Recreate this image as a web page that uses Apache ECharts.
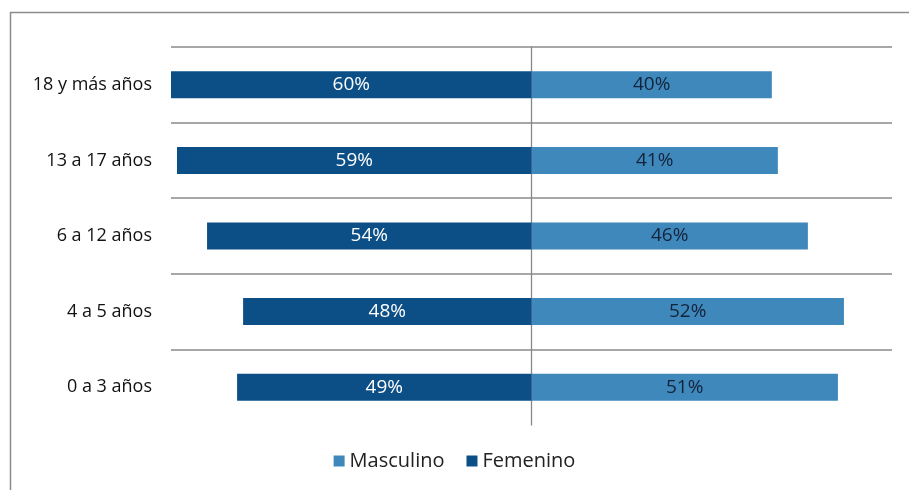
<!DOCTYPE html>
<html><head><meta charset="utf-8">
<script src="https://cdn.jsdelivr.net/npm/echarts@6/dist/echarts.min.js"></script>
<style>html,body{margin:0;padding:0;background:#fff}#c{width:909px;height:490px}</style>
</head><body><div id="c"></div>
<script>
const categories = ['0 a 3 años', '4 a 5 años', '6 a 12 años', '13 a 17 años', '18 y más años'];
const masculino = [51, 52, 46, 41, 40];
const femenino = [49, 48, 54, 59, 60];

const chart = echarts.init(document.getElementById('c'));
const font = '"Open Sans", "Noto Sans", sans-serif';
chart.setOption({
  animation: false,
  backgroundColor: '#fff',
  graphic: [{
    type: 'rect', shape: {x: 10.5, y: 12.5, width: 920, height: 500},
    style: {fill: 'none', stroke: '#8c8c8c', lineWidth: 1.5}, silent: true
  }],
  grid: {left: 171, right: 17, top: 47, bottom: 65},
  legend: {
    bottom: 14, left: 'center', itemWidth: 11, itemHeight: 11, itemGap: 22,
    icon: 'rect',
    textStyle: {fontFamily: font, fontSize: 20, color: '#222'},
    data: ['Masculino', 'Femenino']
  },
  xAxis: {
    type: 'value', min: -60, max: 60, interval: 20,
    axisLine: {show: false}, axisTick: {show: false}, axisLabel: {show: false},
    splitLine: {show: false}
  },
  yAxis: {
    type: 'category', data: categories,
    axisLine: {show: true, onZero: true, lineStyle: {color: '#888', width: 1.3}},
    axisTick: {show: false},
    axisLabel: {margin: 19, fontFamily: font, fontSize: 18, color: '#111'},
    splitLine: {show: true, showMinLine: false, lineStyle: {color: '#8a8a8a', width: 1.5}}
  },
  series: [
    {
      name: 'Masculino', type: 'bar', barWidth: 27, barGap: '-100%',
      itemStyle: {color: '#3f88bb'},
      label: {show: true, position: 'inside', formatter: p => Math.abs(p.value) + '%',
        fontFamily: font, fontSize: 19, color: '#13233a'},
      data: masculino
    },
    {
      name: 'Femenino', type: 'bar', barWidth: 27, barGap: '-100%',
      itemStyle: {color: '#0c4f86'},
      label: {show: true, position: 'inside', formatter: p => Math.abs(p.value) + '%',
        fontFamily: font, fontSize: 19, color: '#fff'},
      data: femenino.map(v => -v)
    }
  ]
});
</script></body></html>
